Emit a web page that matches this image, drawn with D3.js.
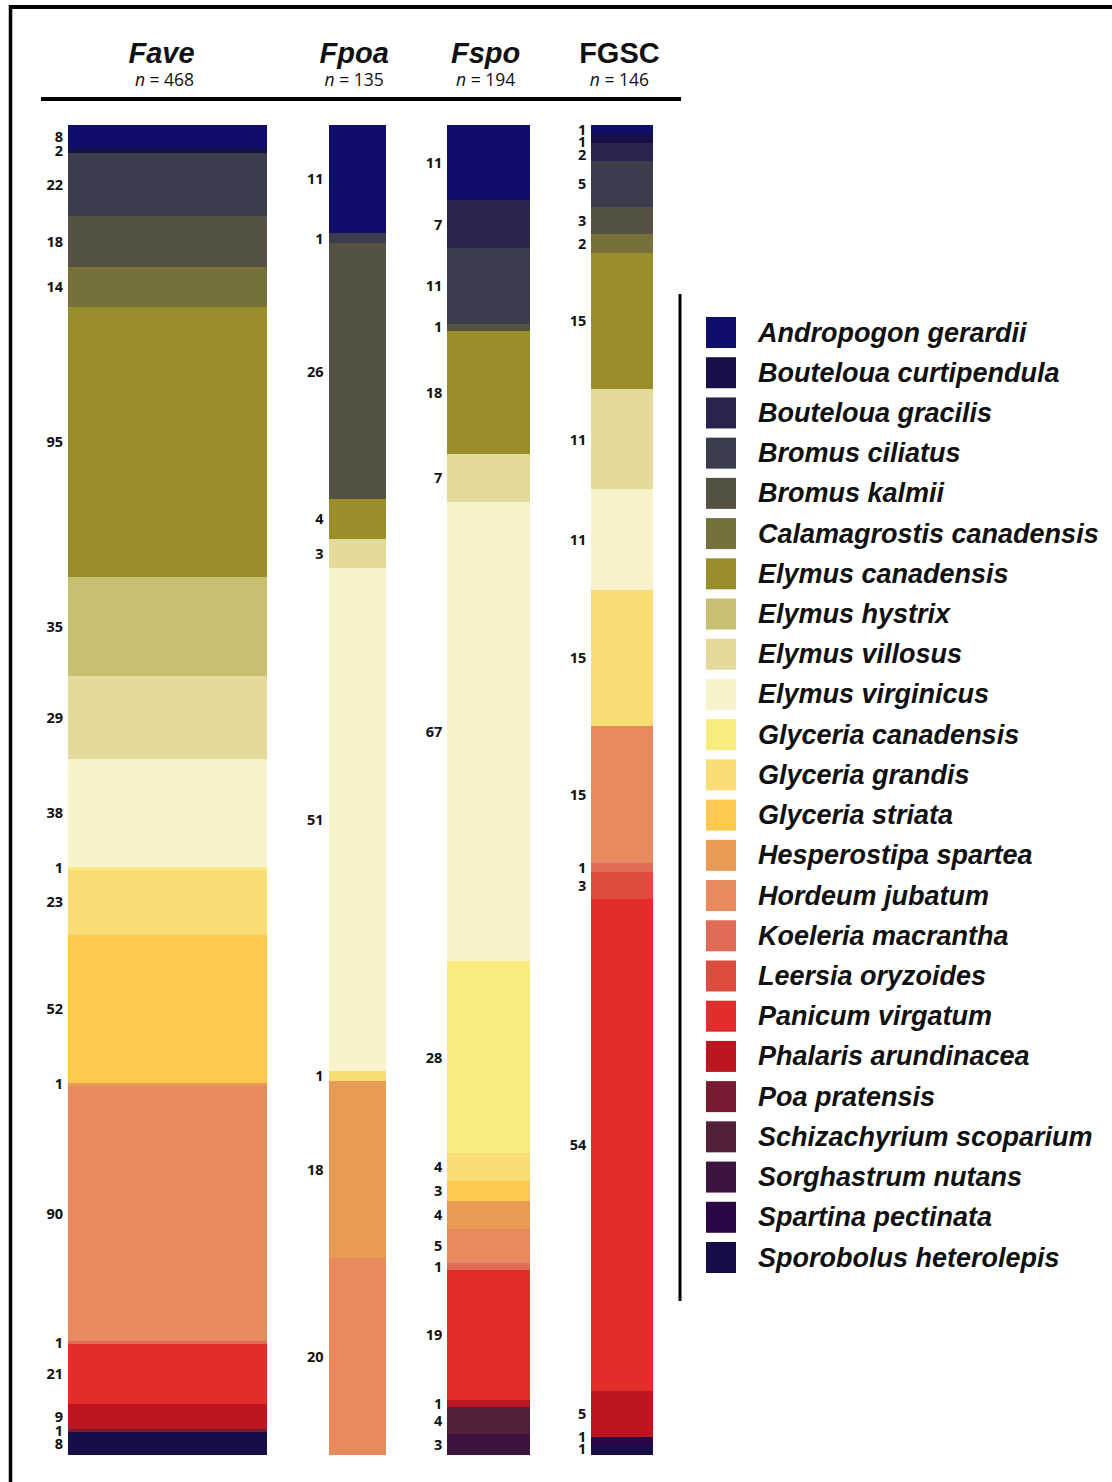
<!DOCTYPE html>
<html>
<head>
<meta charset="utf-8">
<script src="https://cdn.jsdelivr.net/npm/d3@7"></script>
<style>
  html, body { margin: 0; padding: 0; background: #fff; }
  svg { display: block; }
</style>
</head>
<body>
<svg id="chart" width="1112" height="1482"></svg>
<script>
// ---------- DATA ----------
const species = [
  "Andropogon gerardii", "Bouteloua curtipendula", "Bouteloua gracilis", "Bromus ciliatus",
  "Bromus kalmii", "Calamagrostis canadensis", "Elymus canadensis", "Elymus hystrix",
  "Elymus villosus", "Elymus virginicus", "Glyceria canadensis", "Glyceria grandis",
  "Glyceria striata", "Hesperostipa spartea", "Hordeum jubatum", "Koeleria macrantha",
  "Leersia oryzoides", "Panicum virgatum", "Phalaris arundinacea", "Poa pratensis",
  "Schizachyrium scoparium", "Sorghastrum nutans", "Spartina pectinata", "Sporobolus heterolepis"
];
const speciesColors = [
  "#100e6b", "#160f48", "#28244c", "#3c3d4c",
  "#555243", "#76713a", "#9a8e2b", "#c6c070",
  "#e3da9b", "#f9f3cc", "#f8ec7e", "#fade75",
  "#fec94c", "#e89b55", "#e78a5e", "#e06b56",
  "#e04b3f", "#e22d2a", "#bd1620", "#771b30",
  "#522039", "#3d143f", "#2b0845", "#180d47"
];
const groups = ["Fave", "Fpoa", "Fspo", "FGSC"];
const groupItalic = [true, true, true, false];
const groupN = [468, 135, 194, 146];

const faveCounts = [8, 2, 0, 22, 18, 14, 95, 35, 29, 38, 1, 23, 52, 1, 90, 1, 0, 21, 9, 1, 0, 0, 0, 8];
const fpoaCounts = [11, 0, 0, 1, 26, 0, 4, 0, 3, 51, 0, 1, 0, 18, 20, 0, 0, 0, 0, 0, 0, 0, 0, 0];
const fspoCounts = [11, 0, 7, 11, 1, 0, 18, 0, 7, 67, 28, 4, 3, 4, 5, 1, 0, 19, 1, 0, 4, 3, 0, 0];
const fgscCounts = [1, 1, 2, 5, 3, 2, 15, 0, 11, 11, 0, 15, 0, 0, 15, 1, 3, 54, 5, 0, 0, 0, 1, 1];
const counts = [faveCounts, fpoaCounts, fspoCounts, fgscCounts];

// ---------- LAYOUT ----------
const svg = d3.select("#chart");
const barTop = 125, barBottom = 1455;
const y = d3.scaleLinear().domain([0, 1]).range([barTop, barBottom]);
const w = d3.scaleLinear().domain([0, 468]).range([0, 199]);
const gap = 61.5;
const firstX = 68;

// cumulative bar x positions (width proportional to n)
const barX = [];
let cx = firstX;
groupN.forEach((n) => { barX.push(cx); cx += w(n) + gap; });

const color = d3.scaleOrdinal().domain(species).range(speciesColors);

// frame
svg.append("line").attr("x1", 9).attr("x2", 1112).attr("y1", 7).attr("y2", 7)
  .attr("stroke", "#000").attr("stroke-width", 4);
svg.append("line").attr("x1", 10.5).attr("x2", 10.5).attr("y1", 5).attr("y2", 1482)
  .attr("stroke", "#000").attr("stroke-width", 3.5);

// header rule
svg.append("line").attr("x1", 41).attr("x2", 681).attr("y1", 99).attr("y2", 99)
  .attr("stroke", "#000").attr("stroke-width", 4);

// stacked bars
groups.forEach((g, gi) => {
  const vals = counts[gi];
  const total = d3.sum(vals);
  const segs = [];
  let acc = 0;
  vals.forEach((v, si) => {
    if (v > 0) {
      segs.push({ sp: species[si], v, y0: acc / total, y1: (acc + v) / total });
      acc += v;
    }
  });
  const x0 = barX[gi], bw = w(groupN[gi]);
  const gEl = svg.append("g");
  gEl.selectAll("rect").data(segs).join("rect")
    .attr("x", x0).attr("width", bw)
    .attr("y", d => y(d.y0))
    .attr("height", d => y(d.y1) - y(d.y0))
    .attr("fill", d => color(d.sp))
    .attr("shape-rendering", "crispEdges");

  // label positions with simple collision avoidance
  const minGap = 12.5;
  const ys = segs.map(d => y((d.y0 + d.y1) / 2));
  for (let i = 1; i < ys.length; i++) ys[i] = Math.max(ys[i], ys[i - 1] + minGap);
  ys[ys.length - 1] = Math.min(ys[ys.length - 1], barBottom - 6);
  for (let i = ys.length - 2; i >= 0; i--) ys[i] = Math.min(ys[i], ys[i + 1] - minGap);

  gEl.selectAll("text.val").data(segs).join("text")
    .attr("class", "val")
    .attr("x", x0 - 5)
    .attr("y", (d, i) => ys[i])
    .attr("dy", "0.36em")
    .attr("text-anchor", "end")
    .attr("font-family", "'Open Sans', sans-serif")
    .attr("font-weight", "bold")
    .attr("font-size", 14.5)
    .attr("fill", "#111")
    .text(d => d.v);

  // titles
  const center = x0 + bw / 2 - 3;
  svg.append("text")
    .attr("x", gi === 0 ? center - 3 : center).attr("y", 63)
    .attr("text-anchor", "middle")
    .attr("font-family", "'Liberation Sans', Arial, sans-serif")
    .attr("font-weight", "bold")
    .attr("font-style", groupItalic[gi] ? "italic" : "normal")
    .attr("font-size", 29)
    .attr("fill", "#111")
    .text(g);
  const nt = svg.append("text")
    .attr("x", center).attr("y", 86)
    .attr("text-anchor", "middle")
    .attr("font-family", "'Open Sans', sans-serif")
    .attr("font-size", 17.5)
    .attr("fill", "#111");
  nt.append("tspan").attr("font-style", "italic").text("n");
  nt.append("tspan").text(" = " + groupN[gi]);
});

// legend
svg.append("line").attr("x1", 680).attr("x2", 680).attr("y1", 294).attr("y2", 1301)
  .attr("stroke", "#000").attr("stroke-width", 3);
const ly = d3.scalePoint().domain(species).range([332, 1257]);
const leg = svg.append("g").selectAll("g").data(species).join("g")
  .attr("transform", d => `translate(0,${ly(d)})`);
leg.append("rect").attr("x", 706).attr("y", -15).attr("width", 30).attr("height", 31)
  .attr("fill", d => color(d));
leg.append("text").attr("x", 758).attr("y", 9.5)
  .attr("font-family", "'Liberation Sans', Arial, sans-serif")
  .attr("font-weight", "bold").attr("font-style", "italic")
  .attr("font-size", 27).attr("fill", "#111")
  .text(d => d);
</script>
</body>
</html>
